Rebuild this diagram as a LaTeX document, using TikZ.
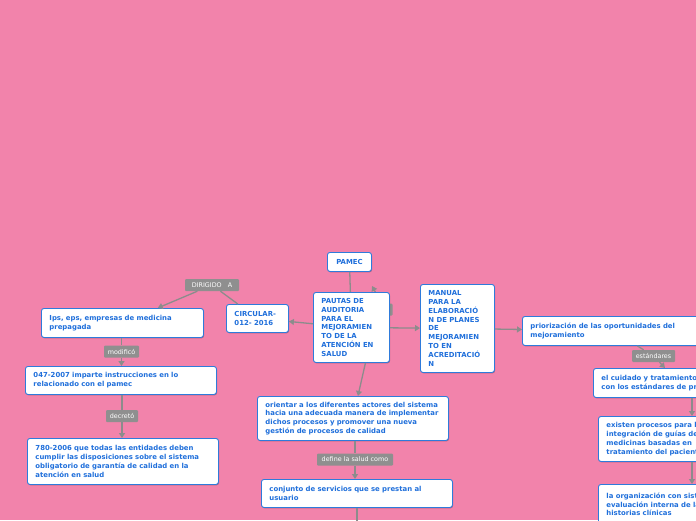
\documentclass[tikz,border=0pt]{standalone}
\usepackage{fontspec}
\setmainfont{DejaVu Sans}
\usetikzlibrary{arrows.meta,shadows}
\definecolor{bgpink}{HTML}{F283AB}
\definecolor{boxblue}{HTML}{2E7BDB}
\definecolor{txtblue}{HTML}{1F6FDB}
\definecolor{lblgray}{HTML}{8F8F8F}
\definecolor{conngray}{HTML}{8C8C8C}
\tikzset{
  box/.style={draw=boxblue, fill=white, rounded corners=2.5pt, line width=0.9pt,
    text=txtblue, font=\fontsize{6.9}{8.8}\selectfont\bfseries, align=left,
    anchor=north west, inner xsep=8pt, inner ysep=3pt,
    drop shadow={shadow xshift=0.6pt, shadow yshift=-0.9pt, fill=black, opacity=0.25}},
  lbl/.style={fill=lblgray, text=white, rounded corners=1pt, inner sep=0pt,
    font=\fontsize{6.4}{7}\selectfont, minimum height=12pt},
  conn/.style={draw=conngray, line width=1.3pt},
  arr/.style={conn, -{Triangle[width=6pt,length=5pt]}}
}
\begin{document}
\begin{tikzpicture}[x=1pt,y=-1pt]
\fill[bgpink] (0,0) rectangle (696,520);
\useasboundingbox (0,0) rectangle (696,520);
\clip (0,0) rectangle (696,520);
% hidden label behind PAUTAS
\node[lbl, minimum width=15pt] (hid) at (385,309.5) {};
\coordinate (hidtip) at (372,286);
\draw[arr] (hid) -- (hidtip);
% nodes
\node[box, minimum width=44pt, minimum height=19pt, align=center, inner xsep=2pt] (pamec) at (327,252) {PAMEC};
\node[box, minimum width=75pt, minimum height=70pt, text width=60pt] (pautas) at (313,292)
  {PAUTAS DE\\AUDITORIA\\PARA EL\\MEJORAMIEN\\TO DE LA\\ATENCIÓN EN\\SALUD};
\node[box, minimum width=62pt, minimum height=28pt, text width=46pt] (circ) at (226,304)
  {CIRCULAR-\\012- 2016};
\node[box, minimum width=73pt, minimum height=88pt, text width=58pt] (manual) at (420,284)
  {MANUAL\\PARA LA\\ELABORACIÓ\\N DE PLANES\\DE\\MEJORAMIEN\\TO EN\\ACREDITACIÓ\\N};
\node[box, minimum width=182pt, minimum height=29pt, text width=166pt] (prior) at (522,316)
  {priorización de las oportunidades del\\mejoramiento};
\node[box, minimum width=190pt, minimum height=29pt, text width=174pt] (cuidado) at (593,368)
  {el cuidado y tratamiento del paciente\\con los estándares de práctica};
\node[box, minimum width=190pt, minimum height=45pt, text width=174pt] (existen) at (598,416)
  {existen procesos para la\\integración de guías de\\medicinas basadas en\\tratamiento del paciente};
\node[box, minimum width=190pt, minimum height=40pt, text width=174pt] (organiz) at (598,484)
  {la organización con sistema\\evaluación interna de las\\historias clínicas};
\node[box, minimum width=191pt, minimum height=44pt, text width=175pt] (orientar) at (257,396)
  {orientar a los diferentes actores del sistema\\hacia una adecuada manera de implementar\\dichos procesos y promover una nueva\\gestión de procesos de calidad};
\node[box, minimum width=191pt, minimum height=28pt, text width=175pt] (conjunto) at (261,479)
  {conjunto de servicios que se prestan al\\usuario};
\node[box, minimum width=162pt, minimum height=29pt, text width=146pt] (ips) at (41,308)
  {Ips, eps, empresas de medicina\\prepagada};
\node[box, minimum width=191pt, minimum height=28pt, text width=175pt] (o47) at (25,366)
  {047-2007 imparte instrucciones en lo\\relacionado con el pamec};
\node[box, minimum width=191pt, minimum height=46pt, text width=175pt] (o780) at (27,438)
  {780-2006 que todas las entidades deben\\cumplir las disposiciones sobre el sistema\\obligatorio de garantía de calidad en la\\atención en salud};
% labels
\node[lbl, minimum width=54pt] (dir) at (212,285) {DIRIGIDO\ \ \ A};
\node[lbl, minimum width=35pt] (mod) at (121.5,351.5) {modificó};
\node[lbl, minimum width=32pt] (dec) at (122,416) {decretó};
\node[lbl, minimum width=76pt] (def) at (355,459.5) {define la salud como};
\node[lbl, minimum width=43pt] (est) at (653.5,356) {estándares};
% connectors
\draw[conn] (pamec) -- (pautas);
\draw[arr] (pautas) -- (circ);
\draw[arr] (pautas) -- (manual);
\draw[arr] ([xshift=14pt]pautas.south) -- ([xshift=5pt]orientar.north);
\draw[arr] (manual) -- (prior);
\draw[conn] (circ) -- (dir);
\draw[arr] (dir) -- (ips);
\draw[conn] (ips.south -| mod) -- (mod);
\draw[arr] (mod) -- (o47.north -| mod);
\draw[conn] (o47.south -| dec) -- (dec);
\draw[arr] (dec) -- (o780.north -| dec);
\draw[conn] (orientar.south -| def) -- (def);
\draw[arr] (def) -- (conjunto.north -| def);
\coordinate (down) at (357,530);
\draw[conn] (conjunto.south -| down) -- (down);
\coordinate (estend) at (665,368);
\draw[conn] (prior) -- (est);
\draw[arr] (est) -- (estend);
\coordinate (xr) at (692,0);
\draw[arr] (cuidado.south -| xr) -- (existen.north -| xr);
\draw[arr] (existen.south -| xr) -- (organiz.north -| xr);
\end{tikzpicture}
\end{document}
